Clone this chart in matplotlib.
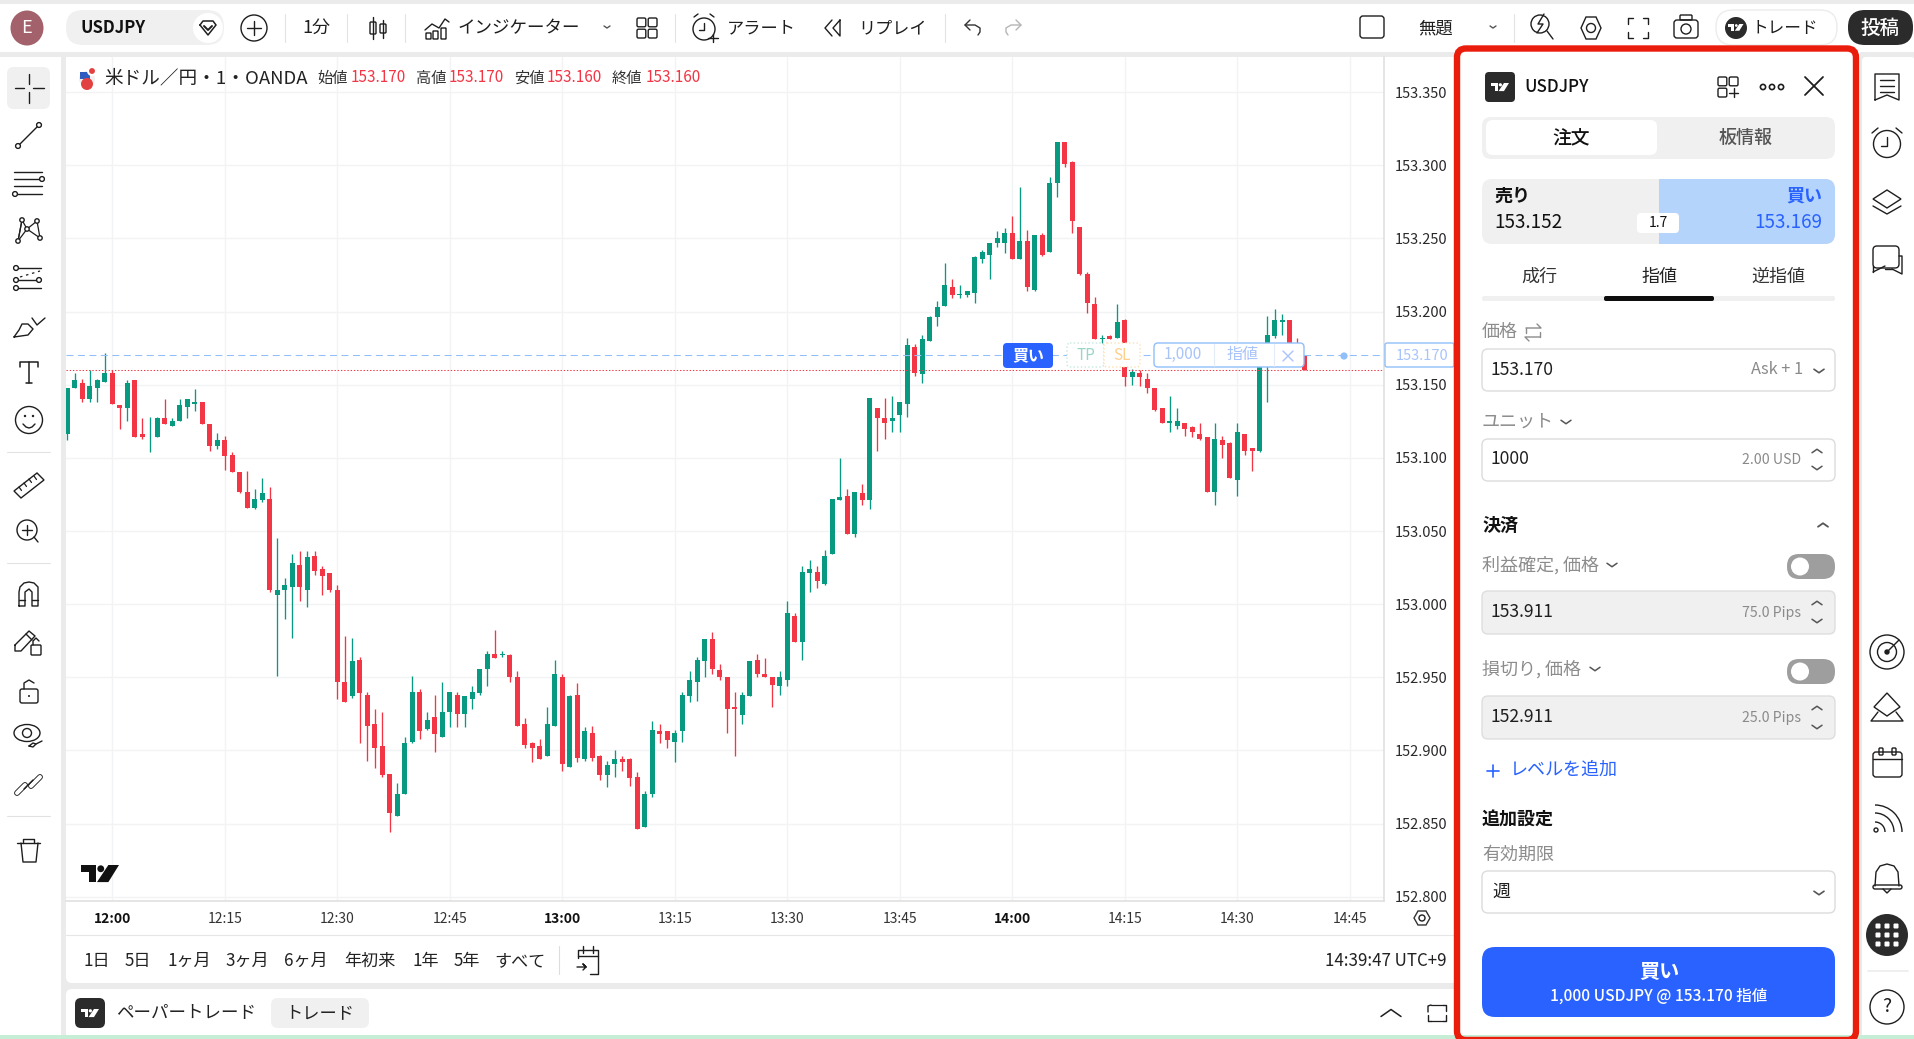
import matplotlib
matplotlib.use('Agg')
import matplotlib.pyplot as plt
from matplotlib.patches import FancyBboxPatch, Circle, Polygon, Rectangle, Ellipse, Arc

plt.rcParams['font.family'] = ['Noto Sans CJK JP', 'DejaVu Sans']

# one minute candles, USDJPY, first candle is 11:54
open_ = [153.116,153.148,153.151,153.140,153.148,153.152,153.158,153.136,153.134,153.153,
         153.116,153.114,153.114,153.127,153.122,153.125,153.135,153.137,153.138,153.123,
         153.108,153.112,153.102,153.090,153.077,153.066,153.071,153.072,153.006,153.010,
         153.012,153.027,153.010,153.033,153.024,153.021,153.010,152.947,152.937,152.962,
         152.938,152.918,152.903,152.884,152.855,152.870,152.906,152.940,152.915,152.923,
         152.909,152.926,152.938,152.925,152.935,152.939,152.956,152.966,152.965,152.965,
         152.950,152.918,152.905,152.903,152.896,152.917,152.950,152.889,152.938,152.894,
         152.912,152.896,152.883,152.891,152.894,152.894,152.882,152.848,152.870,152.913,
         152.913,152.906,152.913,152.937,152.947,152.961,152.976,152.955,152.950,152.930,
         152.924,152.937,152.962,152.952,152.950,152.944,152.948,152.992,152.974,153.021,
         153.022,153.014,153.034,153.071,153.074,153.048,153.076,153.071,153.134,153.127,
         153.125,153.129,153.137,153.176,153.157,153.180,153.196,153.204,153.217,153.211,
         153.211,153.213,153.236,153.239,153.247,153.247,153.254,153.236,153.248,153.215,
         153.252,153.241,153.288,153.316,153.302,153.258,153.226,153.205,153.181,153.183,
         153.182,153.194,153.155,153.158,153.154,153.148,153.134,153.124,153.122,153.124,
         153.121,153.116,153.114,153.077,153.112,153.110,153.085,153.116,153.107,153.105,
         153.172,153.183,153.193,153.194,153.174,153.170]
high = [153.148,153.158,153.154,153.160,153.154,153.172,153.160,153.136,153.153,153.153,
        153.127,153.128,153.128,153.140,153.127,153.140,153.140,153.147,153.138,153.123,
        153.117,153.115,153.104,153.090,153.091,153.079,153.086,153.080,153.045,153.018,
        153.034,153.036,153.036,153.036,153.026,153.021,153.013,152.978,152.977,152.964,
        152.940,152.928,152.926,152.884,152.878,152.909,152.951,152.942,152.926,152.938,
        152.947,152.940,152.940,152.937,152.944,152.956,152.968,152.982,152.968,152.966,
        152.954,152.922,152.906,152.908,152.930,152.962,152.952,152.938,152.946,152.916,
        152.917,152.897,152.893,152.900,152.896,152.895,152.885,152.872,152.920,152.918,
        152.913,152.914,152.940,152.954,152.964,152.976,152.981,152.959,152.950,152.940,
        152.940,152.961,152.966,152.963,152.950,152.954,153.002,152.994,153.026,153.030,
        153.026,153.037,153.072,153.100,153.079,153.077,153.082,153.141,153.134,153.141,
        153.142,153.138,153.182,153.178,153.184,153.197,153.207,153.233,153.222,153.218,
        153.214,153.238,153.242,153.247,153.255,153.257,153.265,153.285,153.256,153.252,
        153.254,153.292,153.316,153.316,153.303,153.258,153.227,153.210,153.184,153.184,
        153.205,153.195,153.161,153.160,153.158,153.148,153.134,153.142,153.134,153.124,
        153.122,153.124,153.114,153.124,153.115,153.111,153.124,153.116,153.107,153.172,
        153.197,153.202,153.198,153.194,153.182,153.170]
low = [153.112,153.148,153.138,153.138,153.138,153.152,153.137,153.120,153.125,153.114,
       153.113,153.104,153.114,153.123,153.122,153.125,153.127,153.132,153.123,153.105,
       153.106,153.092,153.090,153.076,153.066,153.065,153.070,153.008,152.951,152.990,
       152.977,153.002,152.998,153.020,153.006,153.008,152.935,152.933,152.936,152.905,
       152.893,152.888,152.882,152.844,152.855,152.870,152.905,152.908,152.914,152.899,
       152.909,152.916,152.916,152.916,152.928,152.938,152.944,152.963,152.964,152.947,
       152.917,152.902,152.892,152.894,152.896,152.917,152.886,152.889,152.892,152.893,
       152.893,152.880,152.875,152.882,152.886,152.876,152.846,152.848,152.868,152.905,
       152.902,152.892,152.906,152.933,152.934,152.950,152.952,152.948,152.912,152.896,
       152.918,152.937,152.950,152.950,152.930,152.938,152.944,152.974,152.962,153.008,
       153.011,153.013,153.034,153.071,153.048,153.046,153.068,153.065,153.105,153.113,
       153.118,153.118,153.128,153.156,153.151,153.180,153.190,153.204,153.209,153.209,
       153.210,153.206,153.233,153.222,153.244,153.240,153.236,153.236,153.214,153.214,
       153.238,153.241,153.278,153.299,153.254,153.225,153.199,153.181,153.177,153.181,
       153.182,153.149,153.150,153.149,153.144,153.132,153.124,153.118,153.120,153.115,
       153.114,153.112,153.077,153.068,153.100,153.086,153.074,153.102,153.091,153.104,
       153.138,153.182,153.184,153.172,153.170,153.160]
close = [153.148,153.153,153.140,153.149,153.153,153.158,153.137,153.134,153.151,153.114,
         153.114,153.114,153.127,153.123,153.125,153.136,153.140,153.138,153.123,153.108,
         153.112,153.101,153.090,153.077,153.066,153.072,153.076,153.010,153.010,153.013,
         153.028,153.012,153.032,153.023,153.019,153.010,152.947,152.933,152.961,152.939,
         152.917,152.902,152.883,152.857,152.870,152.905,152.940,152.913,152.921,152.911,
         152.926,152.940,152.925,152.937,152.940,152.956,152.966,152.963,152.966,152.950,
         152.917,152.904,152.902,152.894,152.918,152.952,152.891,152.937,152.895,152.913,
         152.895,152.883,152.890,152.894,152.892,152.881,152.846,152.870,152.914,152.911,
         152.907,152.912,152.938,152.948,152.962,152.976,152.956,152.950,152.928,152.928,
         152.938,152.961,152.952,152.950,152.945,152.950,152.994,152.974,153.022,153.024,
         153.016,153.033,153.072,153.073,153.048,153.077,153.071,153.141,153.127,153.124,
         153.127,153.138,153.177,153.158,153.181,153.196,153.203,153.218,153.211,153.212,
         153.214,153.237,153.241,153.247,153.250,153.254,153.236,153.248,153.217,153.252,
         153.239,153.288,153.316,153.301,153.262,153.226,153.206,153.181,153.182,153.181,
         153.193,153.155,153.159,153.155,153.148,153.133,153.124,153.125,153.125,153.120,
         153.118,153.113,153.077,153.113,153.109,153.086,153.118,153.105,153.105,153.172,
         153.184,153.194,153.194,153.174,153.170,153.160]

price_ticks = [152.80,152.85,152.90,152.95,153.00,153.05,153.10,153.15,153.20,153.25,153.30,153.35]
time_labels = ['12:00','12:15','12:30','12:45','13:00','13:15','13:30','13:45','14:00','14:15','14:30','14:45']
first_tick = 6   # 12:00 is the 7th candle
ranges = ['1日','5日','1ヶ月','3ヶ月','6ヶ月','年初来','1年','5年','すべて']
order_price = 153.170
last_price = 153.160

GREEN = '#089981'
RED = '#f23645'
BLUE = '#2962ff'
LBLUE = '#90bff9'
INK = '#1e1e1e'
GRAY = '#8a8a8a'
PANEL = '#f0f0f0'

fig = plt.figure(figsize=(19.15, 10.39), dpi=100, facecolor='#ebebeb')


def px_axes(z):
    a = fig.add_axes([0, 0, 1, 1], zorder=z)
    a.set_xlim(0, 1915)
    a.set_ylim(1039, 0)
    a.axis('off')
    a.patch.set_alpha(0)
    return a


bg = px_axes(0)
ui = px_axes(2)


def box(x0, y0, x1, y1, fc='white', ec='none', r=4, lw=1.0, ls='-', a=None, z=2):
    a = a or ui
    a.add_patch(FancyBboxPatch((x0, y0), x1 - x0, y1 - y0, boxstyle='round,pad=0,rounding_size=%s' % r,
                               fc=fc, ec=ec, lw=lw, ls=ls, zorder=z))


def txt(x, y, s, size=11, c=INK, ha='left', w='normal', z=5):
    ui.text(x, y + 1, s, fontsize=size, color=c, ha=ha, va='center', fontweight=w, zorder=z)


def ln(xs, ys, lw=1.0, c=INK, z=4):
    ui.plot(xs, ys, color=c, lw=lw, solid_capstyle='round', solid_joinstyle='round', zorder=z)


def circ(x, y, r, fc='none', ec=INK, lw=1.0, z=4):
    ui.add_patch(Circle((x, y), r, fc=fc, ec=ec, lw=lw, zorder=z))


def rect(x0, y0, x1, y1, ec=INK, fc='none', r=2, lw=1.0, z=4):
    box(x0, y0, x1, y1, fc=fc, ec=ec, r=r, lw=lw, z=z)


def poly(pts, ec=INK, lw=1.0):
    ui.add_patch(Polygon(pts, fc='none', ec=ec, lw=lw, zorder=4))


def chev(x, y, up=False, s=4, c='#555555', lw=1.0):
    d = -s * 0.7 if up else s * 0.7
    ln([x - s, x, x + s], [y - d / 2, y + d / 2, y - d / 2], lw=lw, c=c)


def tv_logo(x, y, w, c='white', z=6):
    # x, y is the top left corner of the mark, height is about 0.45 w
    h = w * 0.45
    ui.add_patch(Polygon([(x, y), (x + w * .4, y), (x + w * .4, y + h), (x + w * .2, y + h), (x + w * .2, y + h * .42),
                          (x, y + h * .42)], fc=c, ec='none', zorder=z))
    ui.add_patch(Circle((x + w * .52, y + h * .22), h * .2, fc=c, ec='none', zorder=z))
    ui.add_patch(Polygon([(x + w * .72, y), (x + w, y), (x + w * .72, y + h), (x + w * .42, y + h)], fc=c, ec='none', zorder=z))


def four_squares(x, y, s=20, plus=False):
    g = s * .12
    q = (s - g) / 2
    rect(x - s / 2, y - s / 2, x - g / 2, y - g / 2, r=1.5)
    rect(x + g / 2, y - s / 2, x + s / 2, y - g / 2, r=1.5)
    rect(x - s / 2, y + g / 2, x - g / 2, y + s / 2, r=1.5)
    if plus:
        ln([x + g / 2, x + s / 2], [y + g / 2 + q / 2] * 2)
        ln([x + g / 2 + q / 2] * 2, [y + g / 2, y + s / 2])
    else:
        rect(x + g / 2, y + g / 2, x + s / 2, y + s / 2, r=1.5)


# page panels
bg.add_patch(Rectangle((0, 4), 1915, 48, fc='white', ec='none'))     # top bar
bg.add_patch(Rectangle((0, 57), 61, 980, fc='white', ec='none'))     # left tools
box(66, 57, 1470, 983, fc='white', r=6, a=bg)                        # chart + scales
box(66, 989, 1470, 1040, fc='white', r=6, a=bg)                      # bottom panel
bg.add_patch(Rectangle((1456, 50), 404, 989, fc='white', ec='none')) # order panel
box(1862, 57, 1915, 1040, fc='white', r=4, a=bg)                     # right bar
bg.add_patch(Rectangle((0, 1035), 1915, 4, fc='#c6eed6', ec='none', zorder=3))

# the chart itself
chart = fig.add_axes([66 / 1915, 1 - 901 / 1039, (1384 - 66) / 1915, (901 - 57) / 1039], zorder=1)
chart.set_xlim(-0.19, 175.54)
chart.set_ylim(152.7971, 153.3740)
chart.set_facecolor('white')
chart.grid(True, color='#f2f3f4', lw=1.0)
chart.set_axisbelow(True)
for name in ['top', 'left']:
    chart.spines[name].set_visible(False)
for name in ['right', 'bottom']:
    chart.spines[name].set_color('#e0e0e0')
    chart.spines[name].set_linewidth(1.2)

minutes = list(range(len(open_)))
colors = [GREEN if c >= o else RED for o, c in zip(open_, close)]
tops = [max(o, c) for o, c in zip(open_, close)]
bottoms = [min(o, c) for o, c in zip(open_, close)]
heights = [max(t - b, 0.0006) for t, b in zip(tops, bottoms)]
chart.vlines(minutes, low, high, colors=colors, lw=0.95, zorder=3)
chart.bar(minutes, heights, bottom=bottoms, width=0.66, color=colors, lw=0, zorder=3)
chart.axhline(order_price, color=LBLUE, lw=0.75, ls=(0, (6.7, 4.3)), zorder=4)
chart.axhline(last_price, color=RED, lw=0.75, ls=(0, (1.3, 1.8)), zorder=4)

chart.set_yticks(price_ticks)
chart.set_yticklabels(['%.3f' % p for p in price_ticks], fontsize=10.5, color='#2a2a2a')
chart.yaxis.tick_right()
chart.tick_params(axis='y', length=0, pad=8)
chart.set_xticks([first_tick + 15 * i for i in range(len(time_labels))])
chart.set_xticklabels(time_labels, fontsize=10, color='#333333')
chart.tick_params(axis='x', length=0, pad=8)
for lab, t in zip(chart.get_xticklabels(), time_labels):
    if t.endswith(':00'):
        lab.set_fontweight('bold')
        lab.set_color('#111111')

# top bar
ui.add_patch(Ellipse((27, 28), 33, 35, fc='#a3616b', ec='none', zorder=4))
txt(27, 27, 'E', 13, 'white', 'center')
box(66, 10, 224, 45, fc=PANEL, r=17)
txt(81, 27, 'USDJPY', 12, '#111111', w='bold')
circ(208, 28, 15, fc='white', ec='none')
ln([200, 203, 213, 216, 208, 200], [25, 21, 21, 25, 35, 25], lw=1.1)
ln([204, 208, 212], [26, 30, 26], lw=1.4)
circ(254, 28, 13)
ln([247, 261], [28, 28])
ln([254, 254], [21, 35])
for x in [285, 347, 405, 675, 945, 1514]:
    ln([x, x], [14, 42], lw=0.8, c='#e2e2e2')
txt(316, 27, '1分', 13, ha='center')
ln([373, 373], [17, 39])
rect(370, 22, 376, 34, r=1)
ln([383, 383], [20, 38])
rect(380, 24, 386, 33, r=1)
ln([425, 432, 439, 445, 449], [30, 24, 28, 19, 22])
for x0, y0 in [(426, 33), (433, 31), (441, 28)]:
    rect(x0, y0, x0 + 5, 39, r=0.5)
txt(458, 27, 'インジケーター', 12.6)
chev(607, 27, s=3)
four_squares(647, 28, s=20)
circ(704, 29, 11)
ln([704, 704, 699], [23, 30, 30])
ln([694, 698], [17, 14])
ln([710, 714], [14, 17])
ln([713, 713], [34, 42])
ln([708, 718], [38, 38])
txt(727, 27, 'アラート', 12.4)
ln([832, 825, 832], [20, 28, 36])
ln([840, 833, 840, 840], [20, 28, 36, 20])
txt(858, 27, 'リプレイ', 12.3)
# undo, redo
ln([970, 965, 970], [20, 25, 30], c='#333333')
ln([965, 975, 980, 980, 978], [25, 25, 28, 32, 35], c='#333333')
ln([1016, 1021, 1016], [20, 25, 30], c='#b5b5b5')
ln([1021, 1011, 1006, 1006, 1008], [25, 25, 28, 32, 35], c='#b5b5b5')
rect(1360, 16, 1384, 38, r=3)
txt(1436, 27, '無題', 12.5, ha='center')
chev(1493, 27, s=3)
circ(1540, 24, 9)
ln([1547, 1553], [31, 39])
ln([1544, 1538, 1543, 1537], [14, 24, 24, 33], lw=1.0)
poly([(1581, 28), (1586, 17), (1596, 17), (1601, 28), (1596, 39), (1586, 39)])
circ(1591, 28, 4.5)
for xs, ys in [([1628, 1628, 1633], [24, 18, 18]), ([1643, 1648, 1648], [18, 18, 24]),
               ([1628, 1628, 1633], [32, 38, 38]), ([1643, 1648, 1648], [38, 38, 32])]:
    ln(xs, ys)
rect(1674, 20, 1698, 38, r=3)
rect(1680, 15, 1692, 20, r=1)
circ(1686, 29, 5)
box(1716, 10, 1837, 45, fc='white', ec='#ececec', r=17)
circ(1736, 28, 11, fc='#2b2b2b', ec='none')
tv_logo(1728.5, 24, 15)
txt(1752, 27, 'トレード', 12)
box(1848, 10, 1913, 45, fc='#2b2b2b', r=17)
txt(1880, 27, '投稿', 14, 'white', 'center', w='medium')

# left tools
box(7, 67, 50, 109, fc=PANEL, r=7)
ln([29, 29], [74, 84]); ln([29, 29], [92, 103]); ln([15, 24], [88, 88]); ln([33, 44], [88, 88])
ln([18, 39], [146, 125]); circ(18, 146, 2.4, fc='white'); circ(39, 125, 2.4, fc='white')
ln([14, 42], [172, 172]); ln([14, 42], [179, 179]); ln([14, 42], [186, 186]); ln([15, 42], [194, 194])
circ(42, 179, 2.4, fc='white'); circ(15, 194, 2.4, fc='white')
for a_, b_ in [((18, 241), (22, 220)), ((22, 220), (27, 229)), ((27, 229), (37, 221)), ((37, 221), (40, 238)),
               ((27, 229), (40, 238)), ((18, 241), (27, 229)), ((22, 220), (18, 241))]:
    ln([a_[0], b_[0]], [a_[1], b_[1]], lw=0.9)
for x, y in [(18, 241), (22, 220), (27, 229), (37, 221), (40, 238)]:
    circ(x, y, 2.2, fc='white')
ln([16, 41], [268, 268]); ln([16, 39], [280, 280]); ln([16, 41], [288, 288])
ui.plot([20, 40], [277, 271], color=INK, lw=0.9, ls=(0, (2, 3)), zorder=4)
for x, y in [(16, 268), (16, 280), (39, 280), (16, 288)]:
    circ(x, y, 2.4, fc='white')
ln([14, 19, 22, 28, 33, 28, 14], [337, 330, 324, 324, 329, 335, 337])
ln([32, 37, 45], [318, 325, 318])
ln([29, 29], [362, 383], lw=1.1); ln([20, 20, 38, 38], [367, 362, 362, 367], lw=1.1); ln([26, 32], [383, 383], lw=1.1)
circ(29, 420, 13.5)
circ(25, 416, 1.2, fc=INK, ec='none'); circ(33, 416, 1.2, fc=INK, ec='none')
ln([23, 26, 29, 32, 35], [424, 427, 428, 427, 424])
poly([(14, 491), (37, 473), (44, 480), (21, 498)])
for x, y in [(19, 487), (24, 483), (29, 479), (34, 476)]:
    ln([x, x + 2.5], [y, y + 3.5], lw=0.9)
circ(27, 530, 10)
ln([34, 38], [537, 542]); ln([22, 32], [530, 530]); ln([27, 27], [525, 535])
ln([19, 19, 20, 24, 29, 34, 38, 38, 32, 32, 32, 29, 25, 25, 19],
   [606, 592, 587, 583, 582, 583, 587, 606, 606, 592, 592, 589, 592, 606, 606])
ln([19, 25], [600, 600]); ln([32, 38], [600, 600])
ln([15, 29, 35, 21, 15, 15], [645, 631, 636, 651, 651, 645])
ln([26, 32], [634, 640])
rect(31, 645, 41, 655, r=1); ln([33, 33, 36, 39], [645, 641, 638, 641])
rect(20, 689, 38, 703, r=2); ln([24, 24, 29, 34], [689, 683, 680, 683])
circ(29, 696, 1, fc=INK, ec='none')
ui.add_patch(Ellipse((27, 733), 26, 17, fc='none', ec=INK, lw=1.0, zorder=4))
circ(27, 733, 4.5)
ln([29, 33, 36, 33, 29], [746, 743, 744, 747, 746]); ln([36, 42], [744, 741])
ln([17, 25], [793, 785], lw=4.2); ln([17, 25], [793, 785], lw=2.9, c='white', z=5)
ln([31, 40], [786, 777], lw=4.2); ln([31, 40], [786, 777], lw=2.9, c='white', z=5)
ln([24, 33], [789, 780], lw=1.0, z=6)
ln([17, 40], [843, 843]); ln([23, 23, 34, 34], [843, 839, 839, 843])
ln([21, 23, 36, 38], [843, 862, 862, 843])
for y in [452, 563, 816]:
    ln([7, 50], [y, y], lw=0.8, c='#e2e2e2')

# chart legend
ui.add_patch(Circle((87, 79), 8, fc='#f0f0f0', ec='none', zorder=4))
ui.add_patch(Polygon([(80, 72), (90, 72), (90, 79), (80, 79)], fc='#2e5bc0', ec='none', zorder=4))
ui.add_patch(Circle((87, 84), 6, fc='#e34141', ec='none', zorder=4))
circ(92, 71, 4, fc='#e34141', ec='white', lw=1.5, z=5)
txt(104, 77, '米ドル／円・1・OANDA', 13.4, '#222222')
for x0, x1, name, val in [(317, 351, '始値', '153.170'), (416, 449, '高値', '153.170'),
                          (514, 547, '安値', '153.160'), (612, 646, '終値', '153.160')]:
    txt(x0, 77, name, 11, '#333333')
    txt(x1, 77, val, 11, RED)
tv_logo(81, 865, 38, c='#111111')

# order line labels
box(1003, 343, 1053, 368, fc=BLUE, r=4)
txt(1028, 354.5, '買い', 11.5, 'white', 'center', w='bold')
box(1067, 343, 1104, 367, fc='white', ec='#c4e8df', r=3, ls=':')
txt(1086, 354.5, 'TP', 11, '#9ad6c8', 'center')
box(1104, 343, 1140, 367, fc='white', ec='#fde0b2', r=3, ls=':')
txt(1122, 354.5, 'SL', 11, '#fdcf8c', 'center')
box(1154, 343, 1304, 367, fc='white', ec=LBLUE, r=4)
ln([1214, 1214], [344, 366], lw=0.8, c='#e4ecf8')
ln([1274, 1274], [344, 366], lw=0.8, c='#e4ecf8')
txt(1183, 353.5, '1,000', 11, '#a8c4fb', 'center')
txt(1243, 353.5, '指値', 11.5, '#a8c4fb', 'center')
ln([1283, 1293], [351, 361], c='#a8c4fb')
ln([1283, 1293], [361, 351], c='#a8c4fb')
circ(1344, 356, 3.6, fc=LBLUE, ec='none')
box(1385, 343, 1454, 367, fc='white', ec=LBLUE, r=2)
txt(1422, 354.5, '153.170', 10.5, '#a8c4fb', 'center')

# time and range bar
ln([66, 1454], [935, 935], lw=0.8, c='#e6e6e6', z=1)
for x, s in zip([97, 138, 189, 247, 306, 370, 426, 467, 520], ranges):
    txt(x, 960, s, 12.3, '#222222', 'center')
ln([559, 559], [946, 974], lw=0.8, c='#dddddd')
ln([578, 578, 598, 598, 590], [958, 950, 950, 974, 974]); ln([578, 598], [956, 956], lw=1.0)
ln([583, 583], [946, 953]); ln([593, 593], [946, 953])
ln([577, 586, 583, 586, 583], [967, 967, 964, 967, 970])
txt(1447, 960, '14:39:47 UTC+9', 12.2, '#222222', 'right')
circ(1422, 918, 3)
poly([(1414, 918), (1418, 911), (1426, 911), (1430, 918), (1426, 925), (1418, 925)], ec='#333333')
box(75, 998, 105, 1028, fc='#2b2b2b', r=6)
tv_logo(81, 1009, 18)
txt(116, 1012, 'ペーパートレード', 12.6, '#222222')
box(271, 998, 369, 1028, fc=PANEL, r=7)
txt(320, 1012, 'トレード', 12.4, '#222222', 'center')
chev(1391, 1013, up=True, s=10, c=INK, lw=1.1)
for xs, ys in [([1428, 1428, 1431], [1012, 1006, 1005]), ([1443, 1446, 1446], [1005, 1005, 1011]),
               ([1428, 1428, 1431], [1015, 1021, 1021]), ([1443, 1446, 1446], [1021, 1021, 1015])]:
    ln(xs, ys)
ln([1431, 1443], [1005, 1005], lw=0.9); ln([1431, 1443], [1021, 1021], lw=0.9)

# order panel
box(1457, 48.5, 1856, 1040, fc='none', ec='#ea1c0c', r=9, lw=4.6, z=8)
box(1485, 72, 1515, 102, fc='#2b2b2b', r=4)
tv_logo(1491, 83, 18)
txt(1524, 85.5, 'USDJPY', 12.2, '#111111', w='medium')
four_squares(1728, 87, s=20, plus=True)
for x in [1763, 1772, 1781]:
    circ(x, 87, 2.6, lw=1.2)
ln([1805, 1823], [77, 95], lw=1.3); ln([1805, 1823], [95, 77], lw=1.3)

box(1482, 117, 1835, 159, fc=PANEL, r=9)
box(1486, 120, 1657, 155, fc='white', r=7)
txt(1571, 137, '注文', 13.5, '#111111', 'center', w='medium')
txt(1746, 137, '板情報', 13, '#555555', 'center', w='medium')

box(1482, 179, 1835, 244, fc=PANEL, r=10)
box(1659, 179, 1835, 244, fc='#b5d4fb', r=10)
ui.add_patch(Rectangle((1659, 179), 15, 65, fc='#b5d4fb', ec='none', zorder=2))
txt(1494, 195, '売り', 13, '#111111', w='bold')
txt(1494, 222, '153.152', 13.6, '#111111')
txt(1822, 195, '買い', 13, BLUE, 'right', w='bold')
txt(1822, 222, '153.169', 13.6, BLUE, 'right')
box(1637, 213, 1679, 233, fc='white', r=4)
txt(1658, 222, '1.7', 10, '#111111', 'center')

txt(1539, 276, '成行', 13, '#333333', 'center')
txt(1659, 276, '指値', 13, '#222222', 'center')
txt(1778, 276, '逆指値', 13, '#333333', 'center')
box(1482, 296, 1835, 301, fc=PANEL, r=2)
box(1604, 296, 1714, 301, fc='#0e0e0e', r=2, z=3)


def field_label(y, s, chevron_x=None):
    txt(1482, y, s, 13, '#8c8c8c')
    if chevron_x:
        chev(chevron_x, y + 1, s=5, lw=1.1)


def spinner(y0, y1):
    chev(1817, y0, up=True, s=5, lw=1.1)
    chev(1817, y1, s=5, lw=1.1)


field_label(331, '価格')
ln([1526, 1541, 1537], [328, 328, 324], c='#8c8c8c')
ln([1540, 1525, 1529], [337, 337, 341], c='#8c8c8c')
ln([1526, 1526], [328, 333], c='#8c8c8c'); ln([1540, 1540], [337, 332], c='#8c8c8c')
box(1482, 349, 1835, 391, fc='white', ec='#dcdcdc', r=6)
txt(1491, 369, '153.170', 12.6)
txt(1803, 369, 'Ask + 1', 11.8, GRAY, 'right')
chev(1819, 371, s=5, lw=1.2)
field_label(421, 'ユニット', 1566)
box(1482, 439, 1835, 481, fc='white', ec='#dcdcdc', r=6)
txt(1491, 458, '1000', 12.6)
txt(1801, 459, '2.00 USD', 10.2, GRAY, 'right')
spinner(451, 468)
txt(1482, 524, '決済', 13, '#111111', w='bold')
chev(1823, 525, up=True, s=5, lw=1.3)

field_label(564, '利益確定, 価格', 1612)
box(1787, 554, 1835, 579, fc='#9e9e9e', r=12)
circ(1800, 566.5, 9, fc='white', ec='none')
box(1482, 591, 1835, 634, fc=PANEL, ec='#dedede', r=6)
txt(1491, 611, '153.911', 12.6)
txt(1801, 612, '75.0 Pips', 10.2, GRAY, 'right')
spinner(603, 621)
field_label(668, '損切り, 価格', 1595)
box(1787, 659, 1835, 684, fc='#9e9e9e', r=12)
circ(1800, 671.5, 9, fc='white', ec='none')
box(1482, 696, 1835, 739, fc=PANEL, ec='#dedede', r=6)
txt(1491, 716, '152.911', 12.6)
txt(1801, 717, '25.0 Pips', 10.2, GRAY, 'right')
spinner(708, 727)
ln([1487, 1499], [771, 771], c=BLUE, lw=1.2); ln([1493, 1493], [765, 777], c=BLUE, lw=1.2)
txt(1510, 769, 'レベルを追加', 13, BLUE)
txt(1482, 819, '追加設定', 13, '#111111', w='bold')
field_label(854, '有効期限')
box(1482, 871, 1835, 913, fc='white', ec='#dcdcdc', r=6)
txt(1492, 891, '週', 13)
chev(1819, 893, s=5, lw=1.2)
box(1482, 947, 1835, 1017, fc=BLUE, r=13)
txt(1659, 970, '買い', 14.5, 'white', 'center', w='bold')
txt(1659, 995, '1,000 USDJPY @ 153.170 指値', 11.2, 'white', 'center', w='medium')

# right sidebar
ln([1875, 1875, 1899, 1899, 1887, 1875], [100, 74, 74, 100, 95, 100])
for y in [80, 86, 92]:
    ln([1880, 1894], [y, y])
circ(1887, 144, 13.5)
ln([1887, 1887, 1881], [137, 146, 146])
ln([1872, 1878], [133, 128]); ln([1896, 1902], [128, 133])
poly([(1873, 199), (1887, 190), (1901, 199), (1887, 208)])
ln([1873, 1887, 1901], [206, 214, 206])
rect(1873, 246, 1899, 268, r=4)
ln([1873, 1873], [266, 272]); ln([1873, 1885], [272, 266])
ln([1899, 1902, 1902, 1892], [256, 256, 274, 269]); ln([1885, 1892], [269, 269])
circ(1887, 652, 17)
circ(1887, 652, 9.5)
circ(1887, 652, 2, fc=INK)
ln([1887, 1899], [652, 640])
poly([(1887, 693), (1900, 707), (1887, 716), (1874, 707)])
ln([1878, 1871, 1903, 1896], [712, 721, 721, 712])
rect(1873, 752, 1902, 777, r=3)
ln([1873, 1902], [759, 759])
rect(1879, 748, 1883, 755, r=1); rect(1892, 748, 1896, 755, r=1)
circ(1876, 830, 2)
for d in [20, 38, 54]:
    ui.add_patch(Arc((1875, 832), d, d, theta1=270, theta2=360, ec=INK, lw=1.0, zorder=4))
ln([1875, 1876, 1880, 1887, 1894, 1898, 1899], [886, 872, 866, 864, 866, 872, 886])
box(1873, 885, 1902, 889, fc='none', ec=INK, r=2, lw=1.0, z=4)
ln([1883, 1887, 1891], [889, 893, 889])
circ(1887, 935, 21, fc='#2b2b2b', ec='none')
for yy in [926, 935, 944]:
    for xx in [1878, 1887, 1896]:
        box(xx - 2.5, yy - 2.5, xx + 2.5, yy + 2.5, fc='white', r=1, z=5)
ln([1868, 1908], [971, 971], lw=1.2, c='#ececec')
circ(1887, 1007, 17)
txt(1887, 1005, '?', 14, INK, 'center')

fig.savefig('out.png', dpi=100, facecolor=fig.get_facecolor())
